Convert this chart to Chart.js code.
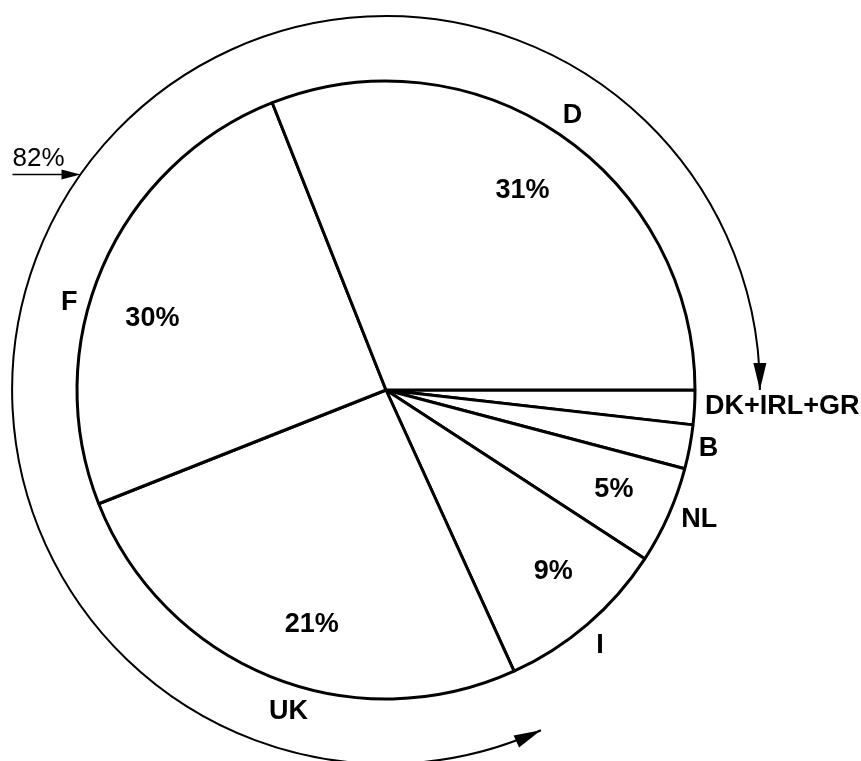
<!DOCTYPE html>
<html>
<head>
<meta charset="utf-8">
<script src="https://cdn.jsdelivr.net/npm/chart.js@4.4.1/dist/chart.umd.min.js"></script>
<style>
html, body { margin: 0; padding: 0; background: #fff; }
</style>
</head>
<body>
<canvas id="myChart" width="861" height="761"></canvas>
<script>
// slices listed clockwise, starting at 3 o'clock
var countries = ['DK+IRL+GR', 'B', 'NL', 'I', 'UK', 'F', 'D'];
// slice sizes as they are drawn in the original (F and UK are not drawn to scale)
var drawnShares = [1.8, 2.3, 5.1, 9.0, 25.8, 25.0, 31.0];
// percentages printed inside the slices
var printedShares = ['', '', '5%', '9%', '21%', '30%', '31%'];
// D + F + UK, shown by the outer double arrow
var bracketText = '82%';
var bracketFrom = 4, bracketTo = 6;

// label placement: angle nudge (deg) and radius as a fraction of the pie radius
var nameNudge = [-0.2, -0.3, -1.5, 0.7, -5.1, -7.9, 0];
var nameRadius = [1.034, 1.061, 1.097, 1.078, 1.087, 1.064, 1.074];
var pctNudge = [0, 0, -0.3, -1.9, -4.4, -6.3, 0.2];
var pctRadius = [0, 0, 0.805, 0.80, 0.796, 0.791, 0.782];

var deg = Math.PI / 180;

function arrowHead(ctx, cx, cy, r, a, dir) {
    var tx = cx + Math.cos(a) * r, ty = cy + Math.sin(a) * r;
    var dx = -Math.sin(a) * dir, dy = Math.cos(a) * dir;
    var len = 27, half = 6.5;
    var bx = tx - dx * len, by = ty - dy * len;
    ctx.beginPath();
    ctx.moveTo(tx, ty);
    ctx.lineTo(bx - dy * half, by + dx * half);
    ctx.lineTo(bx + dy * half, by - dx * half);
    ctx.closePath();
    ctx.fill();
}

var overlay = {
    id: 'overlay',
    afterDatasetsDraw: function(chart) {
        var ctx = chart.ctx;
        var arcs = chart.getDatasetMeta(0).data;
        var cx = arcs[0].x, cy = arcs[0].y, r = arcs[0].outerRadius;
        ctx.save();
        ctx.fillStyle = '#000';
        ctx.strokeStyle = '#000';
        ctx.textBaseline = 'middle';
        ctx.font = 'bold 27px "Liberation Sans", Arial, sans-serif';
        for (var i = 0; i < arcs.length; i++) {
            var mid = (arcs[i].startAngle + arcs[i].endAngle) / 2;
            var a = mid + nameNudge[i] * deg;
            ctx.textAlign = i == 0 ? 'left' : 'center';
            ctx.fillText(countries[i], cx + Math.cos(a) * r * nameRadius[i], cy + Math.sin(a) * r * nameRadius[i]);
            if (printedShares[i]) {
                a = mid + pctNudge[i] * deg;
                ctx.textAlign = 'center';
                ctx.fillText(printedShares[i], cx + Math.cos(a) * r * pctRadius[i], cy + Math.sin(a) * r * pctRadius[i]);
            }
        }

        // outer ring with arrows at both ends
        var ringR = r * 1.21;
        var a0 = arcs[bracketFrom].startAngle, a1 = arcs[bracketTo].endAngle;
        ctx.lineWidth = 2;
        ctx.beginPath();
        ctx.arc(cx, cy, ringR, a0, a1);
        ctx.stroke();
        arrowHead(ctx, cx, cy, ringR, a1, 1);
        arrowHead(ctx, cx, cy, ringR, a0, -1);

        // 82% pointer
        var pa = 215.2 * deg;
        var px = cx + Math.cos(pa) * ringR, py = cy + Math.sin(pa) * ringR;
        ctx.lineWidth = 1.6;
        ctx.beginPath();
        ctx.moveTo(px - 68, py);
        ctx.lineTo(px - 14, py);
        ctx.stroke();
        ctx.beginPath();
        ctx.moveTo(px, py);
        ctx.lineTo(px - 19, py - 5);
        ctx.lineTo(px - 19, py + 5);
        ctx.closePath();
        ctx.fill();
        ctx.font = '26px "Liberation Sans", Arial, sans-serif';
        ctx.textAlign = 'left';
        ctx.textBaseline = 'alphabetic';
        ctx.fillText(bracketText, px - 68, py - 8);
        ctx.restore();
    }
};

var ctx = document.getElementById('myChart').getContext('2d');
var myChart = new Chart(ctx, {
    type: 'pie',
    data: {
        labels: countries,
        datasets: [{
            data: drawnShares,
            backgroundColor: '#ffffff',
            borderColor: '#000000',
            borderWidth: 3,
            radius: 309,
            hoverOffset: 0
        }]
    },
    options: {
        responsive: false,
        animation: false,
        rotation: 90,
        layout: { padding: { left: 0, right: 89, top: 19, bottom: 0 } },
        plugins: {
            legend: { display: false },
            tooltip: { enabled: false }
        }
    },
    plugins: [overlay]
});
</script>
</body>
</html>
